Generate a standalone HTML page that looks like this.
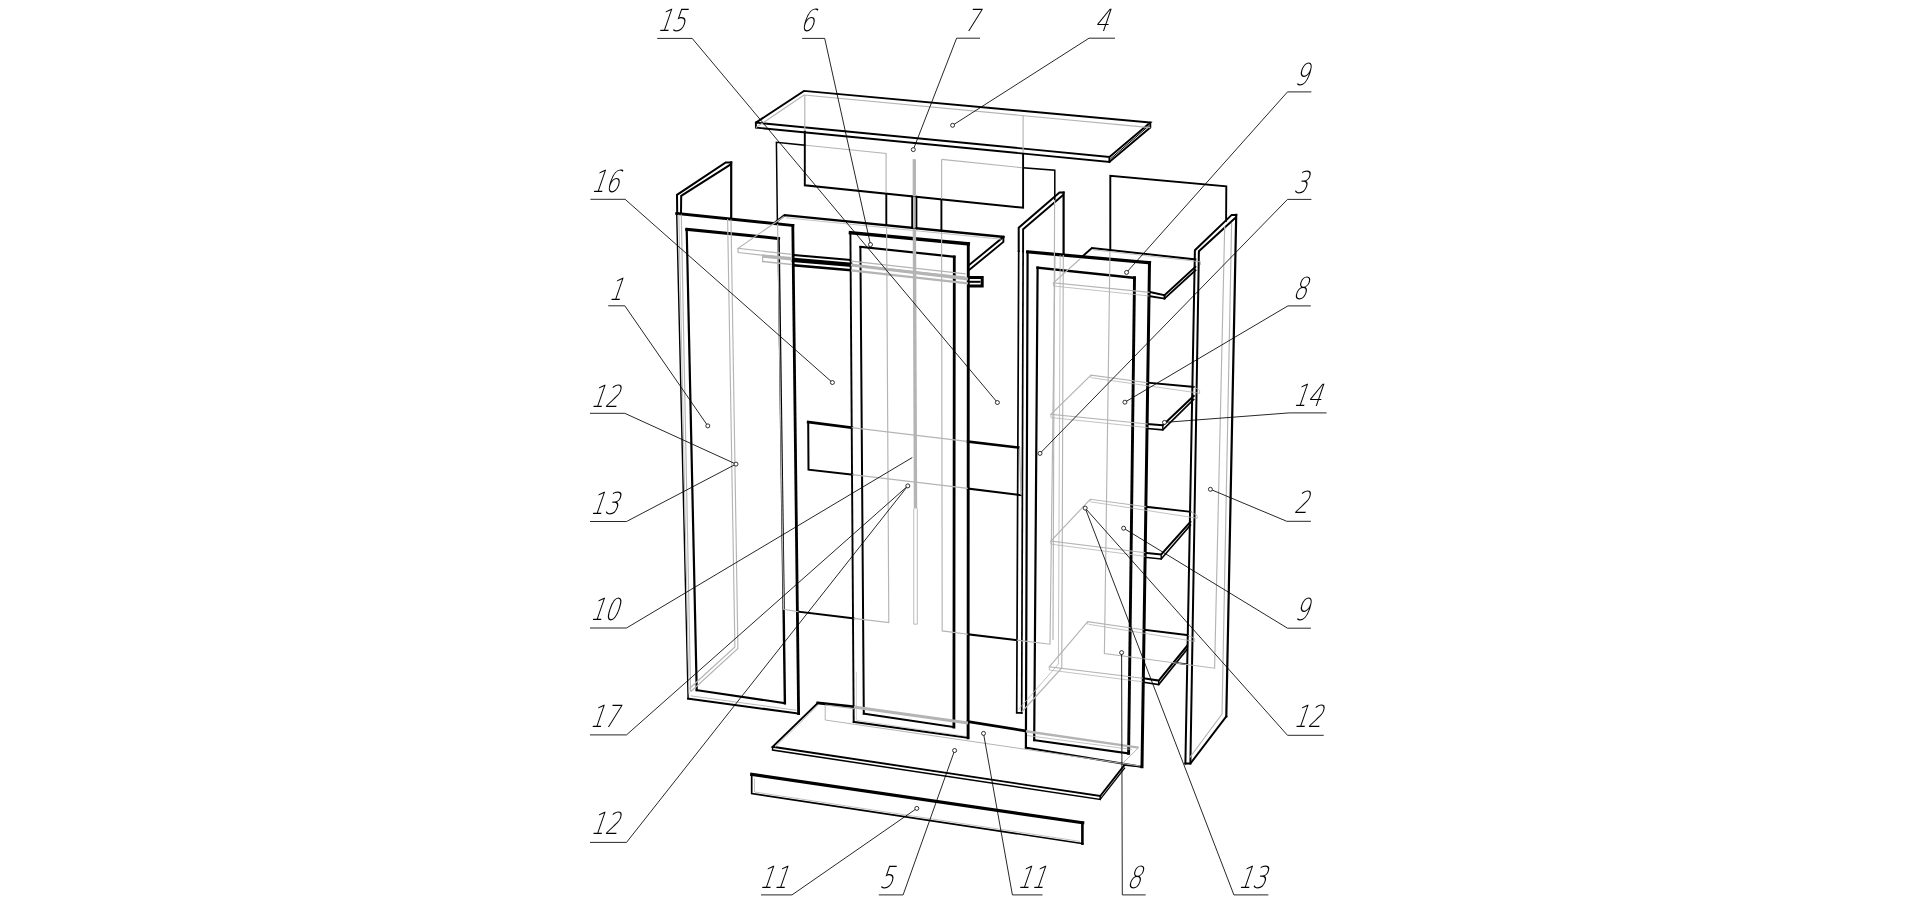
<!DOCTYPE html>
<html lang="ru"><head><meta charset="utf-8"><title>Схема сборки шкафа</title>
<style>
html,body{margin:0;padding:0;background:#fff;}
body{width:1916px;height:904px;overflow:hidden;}
svg{display:block;}
.k{fill:none;stroke:#000;stroke-width:1.9;stroke-linecap:square;stroke-linejoin:miter;}
.t{fill:none;stroke:#000;stroke-width:0.85;}
.g{fill:none;stroke:#b4b4b4;stroke-width:1.15;}
.c{fill:#fff;stroke:#000;stroke-width:0.8;}
text{font-family:"DejaVu Sans Light","DejaVu Sans","Liberation Sans",sans-serif;font-weight:200;fill:#000;}
</style></head><body>
<svg width="1916" height="904" viewBox="0 0 1916 904">
<rect width="1916" height="904" fill="#fff"/>
<g id="black">
<path class="k" d="M755.9,122.6 L804.0,90.9 L1150.3,122.6 L1109.4,156.9 L755.9,122.6 L755.9,127.6 L1109.4,161.9 L1109.4,156.9"/>
<path class="k" d="M1109.4,161.9 L1150.3,127.6 L1150.3,122.6"/>
<path class="k" d="M1148.6,126.0 L1110.8,158.6" style="stroke-width:1.0"/>
<path class="k" d="M804.8,131.5 L804.8,185.3 L1023.1,207.8 L1023.1,153.5"/>
<path class="k" d="M804.8,145.2 L776.4,142.3 L777.4,223.0" style="stroke-width:1.5"/>
<path class="k" d="M886.3,193.8 L886.3,225.2"/>
<path class="k" d="M798.6,611.7 L853.7,618.4"/>
<path class="k" d="M941.4,199.5 L941.4,231.0"/>
<path class="k" d="M968.1,634.3 L1016.7,640.1"/>
<path class="k" d="M1023.1,167.7 L1054.8,170.2 L1054.8,199.4" style="stroke-width:1.5"/>
<path class="k" d="M912.2,196.3 L912.2,228.0"/>
<path class="k" d="M916.4,196.8 L916.4,228.4"/>
<path class="k" d="M677.2,213.5 L677.0,194.8 L725.7,162.4 L731.2,162.4" style="stroke-width:2.0"/>
<path class="k" d="M731.2,162.4 L731.2,219.2" style="stroke-width:2.2"/>
<path class="k" d="M681.0,213.8 L681.2,195.9 L730.7,164.4" style="stroke-width:2.0"/>
<path class="k" d="M676.7,213.5 L792.8,225.5" style="stroke-width:2.9"/>
<path class="k" d="M792.8,225.5 L798.6,713.6" style="stroke-width:2.8"/>
<path class="k" d="M798.6,713.6 L688.1,698.6" style="stroke-width:2.0"/>
<path class="k" d="M688.1,698.6 L676.7,213.5" style="stroke-width:1.4"/>
<path class="k" d="M686.7,229.3 L778.6,238.5" style="stroke-width:3.0"/>
<path class="k" d="M778.6,238.5 L784.9,703.2" style="stroke-width:2.4"/>
<path class="k" d="M784.9,703.2 L696.7,690.2" style="stroke-width:2.0"/>
<path class="k" d="M696.7,690.2 L686.7,229.3" style="stroke-width:2.2"/>
<path class="k" d="M773.7,223.6 L784.6,215.1 L1003.4,236.9" style="stroke-width:2.3"/>
<path class="k" d="M1003.4,236.9 L1003.4,241.9 L968.6,270.5"/>
<path class="k" d="M1003.4,236.9 L968.6,265.5"/>
<path class="k" d="M794.0,255.0 L850.0,260.0" style="stroke-width:2.0"/>
<path class="k" d="M794.0,260.0 L850.0,264.7" style="stroke-width:4.4"/>
<path class="k" d="M794.0,265.4 L850.0,270.1" style="stroke-width:2.6"/>
<path class="k" d="M969.4,277.6 L982.2,277.6 L982.2,285.9 L969.4,285.9" style="stroke-width:3.0"/>
<path class="k" d="M969.4,281.8 L979.5,281.8" style="stroke-width:2.0"/>
<path class="k" d="M850.4,232.7 L968.3,243.8" style="stroke-width:3.4"/>
<path class="k" d="M968.3,243.8 L968.1,737.8" style="stroke-width:2.9"/>
<path class="k" d="M968.1,737.8 L853.7,721.9" style="stroke-width:2.0"/>
<path class="k" d="M853.7,721.9 L850.4,232.7" style="stroke-width:1.9"/>
<path class="k" d="M860.4,246.9 L954.3,256.8" style="stroke-width:2.1"/>
<path class="k" d="M954.3,256.8 L953.9,727.0" style="stroke-width:2.8"/>
<path class="k" d="M953.9,727.0 L863.8,713.6" style="stroke-width:2.0"/>
<path class="k" d="M863.8,713.6 L860.4,246.9" style="stroke-width:2.0"/>
<path class="k" d="M851.7,427.7 L808.2,422.0" style="stroke-width:2.8"/>
<path class="k" d="M808.2,422.0 L808.5,469.7 L852.4,474.7" style="stroke-width:2.0"/>
<path class="k" d="M967.9,441.5 L1018.4,447.6" style="stroke-width:2.6"/>
<path class="k" d="M967.9,488.6 L1020.5,495.1" style="stroke-width:2.0"/>
<path class="k" d="M1018.7,251.0 L1018.7,227.7 L1059.5,192.6 L1063.6,192.6" style="stroke-width:2.0"/>
<path class="k" d="M1063.6,192.6 L1063.6,254.6" style="stroke-width:2.2"/>
<path class="k" d="M1023.1,251.5 L1023.1,229.2 L1063.0,195.2" style="stroke-width:1.9"/>
<path class="k" d="M1018.7,251.0 L1016.7,712.8 L1021.7,712.8" style="stroke-width:1.7"/>
<path class="k" d="M1023.1,251.5 L1021.7,712.8" style="stroke-width:1.7"/>
<path class="k" d="M1027.6,251.9 L1149.5,262.7" style="stroke-width:3.2"/>
<path class="k" d="M1149.5,262.7 L1142.0,766.8" style="stroke-width:3.0"/>
<path class="k" d="M1142.0,766.8 L1025.9,747.6" style="stroke-width:2.0"/>
<path class="k" d="M1025.9,747.6 L1027.6,251.9" style="stroke-width:2.2"/>
<path class="k" d="M1037.6,267.7 L1134.5,277.8" style="stroke-width:2.5"/>
<path class="k" d="M1134.5,277.8 L1128.6,753.4" style="stroke-width:2.9"/>
<path class="k" d="M1128.6,753.4 L1034.2,740.1" style="stroke-width:2.0"/>
<path class="k" d="M1034.2,740.1 L1037.6,267.7" style="stroke-width:2.2"/>
<path class="k" d="M1110.3,249.8 L1110.3,175.9 L1226.3,186.4 L1226.1,220.9" style="stroke-width:1.9"/>
<path class="k" d="M1185.4,763.5 L1194.9,250.2 L1231.7,214.9 L1236.2,214.9" style="stroke-width:2.0"/>
<path class="k" d="M1236.2,214.9 L1226.3,716.4" style="stroke-width:2.2"/>
<path class="k" d="M1226.3,716.4 L1190.4,763.5 L1185.4,763.5" style="stroke-width:2.0"/>
<path class="k" d="M1190.4,763.5 L1198.9,251.2 L1234.7,218.4" style="stroke-width:2.0"/>
<path class="k" d="M1081.9,256.9 L1091.9,248.0 L1195.4,259.4"/>
<path class="k" d="M1195.4,266.9 L1164.5,295.3 L1149.5,292.0"/>
<path class="k" d="M1195.4,270.3 L1164.5,298.6 L1149.5,296.1"/>
<path class="k" d="M1164.5,295.3 L1164.5,298.6"/>
<path class="k" d="M1147.8,382.7 L1193.7,386.9"/>
<path class="k" d="M1193.7,396.0 L1162.8,425.3 L1147.8,424.0" style="stroke-width:2.0"/>
<path class="k" d="M1193.7,399.4 L1162.8,429.9 L1147.8,428.6" style="stroke-width:1.6"/>
<path class="k" d="M1162.8,425.3 L1162.8,429.9" style="stroke-width:1.4"/>
<path class="k" d="M1146.1,506.8 L1190.4,511.8"/>
<path class="k" d="M1190.4,521.8 L1161.2,554.4 L1145.3,552.8" style="stroke-width:2.0"/>
<path class="k" d="M1190.4,525.2 L1161.2,559.0 L1145.3,557.4" style="stroke-width:1.6"/>
<path class="k" d="M1161.2,554.4 L1161.2,559.0" style="stroke-width:1.4"/>
<path class="k" d="M1143.6,629.7 L1187.9,635.1"/>
<path class="k" d="M1187.0,646.0 L1158.7,680.6 L1142.8,678.2" style="stroke-width:2.0"/>
<path class="k" d="M1187.0,649.4 L1158.7,684.6 L1142.8,682.2" style="stroke-width:1.6"/>
<path class="k" d="M1158.7,680.6 L1158.7,684.6" style="stroke-width:1.4"/>
<path class="k" d="M1175.4,662.7 L1187.0,664.3" style="stroke-width:1.6"/>
<path class="k" d="M817.7,703.0 L853.6,706.7" style="stroke-width:2.8"/>
<path class="k" d="M968.0,721.7 L1025.6,730.9" style="stroke-width:2.8"/>
<path class="k" d="M817.7,703.0 L772.6,746.8 L1100.2,796.0 L1124.4,765.1" style="stroke-width:1.9"/>
<path class="k" d="M772.6,746.8 L772.6,750.1 L1100.2,799.4 L1100.2,796.0" style="stroke-width:1.5"/>
<path class="k" d="M1100.2,799.4 L1124.6,768.2" style="stroke-width:1.3"/>
<path class="k" d="M1124.4,765.1 L1142.0,767.0" style="stroke-width:1.5"/>
<path class="k" d="M751.7,774.3 L1082.7,822.8" style="stroke-width:3.2"/>
<path class="k" d="M1082.4,822.8 L1082.4,843.6" style="stroke-width:2.6"/>
<path class="k" d="M751.7,774.3 L751.7,793.5 L1082.7,843.6" style="stroke-width:1.7"/>
</g>
<g id="gray">
<path class="g" d="M755.9,127.6 L804.0,95.0 L1150.3,127.6"/>
<path class="g" d="M804.8,95.0 L804.8,131.0"/>
<path class="g" d="M1023.1,115.0 L1023.1,153.0"/>
<path class="g" d="M806.0,145.3 L886.1,153.5 L886.1,193.0"/>
<path class="g" d="M886.6,226.0 L888.8,622.6 L853.7,618.4"/>
<path class="g" d="M777.6,224.0 L783.6,609.2 L798.6,611.7"/>
<path class="g" d="M941.6,159.4 L1022.3,167.7"/>
<path class="g" d="M941.6,159.4 L941.6,199.0"/>
<path class="g" d="M941.6,232.0 L942.2,630.9 L968.1,634.3"/>
<path class="g" d="M1016.7,640.1 L1050.0,644.2 L1055.0,256.0"/>
<path class="g" d="M1054.6,200.0 L1053.0,640.0"/>
<path class="g" d="M914.3,159.2 L914.3,196.0" style="stroke-width:3.3"/>
<path class="g" d="M914.3,196.5 L914.3,228.4" style="stroke-width:2.2"/>
<path class="g" d="M914.4,229.0 L915.5,508.5" style="stroke-width:3.4"/>
<path class="g" d="M913.8,508.5 L913.8,624.2" style="stroke-width:0.9"/>
<path class="g" d="M917.3,508.5 L917.3,624.2" style="stroke-width:0.9"/>
<path class="g" d="M913.8,624.2 L917.3,624.2" style="stroke-width:0.9"/>
<path class="g" d="M681.3,214.5 L690.6,691.5"/>
<path class="g" d="M678.8,214.5 L688.9,693.5" style="stroke-width:0.9"/>
<path class="g" d="M731.0,219.5 L737.9,648.5 L690.9,691.5"/>
<path class="g" d="M727.6,219.0 L734.9,647.0 L689.5,688.5"/>
<path class="g" d="M690.4,695.8 L796.6,710.3" style="stroke-width:0.9"/>
<path class="g" d="M784.0,216.5 L738.1,248.4 L792.0,254.4"/>
<path class="g" d="M851.5,261.1 L965.6,273.9"/>
<path class="g" d="M738.1,248.4 L738.1,252.6 L792.0,258.4"/>
<path class="g" d="M851.5,264.8 L965.6,277.0"/>
<path class="g" d="M786.0,217.8 L1001.0,239.2" style="stroke-width:0.8"/>
<path class="g" d="M762.6,256.1 L792.0,258.8" style="stroke-width:3.4"/>
<path class="g" d="M762.6,261.5 L792.0,264.6" style="stroke-width:1.5"/>
<path class="g" d="M762.6,254.4 L762.6,262.3" style="stroke-width:1.2"/>
<path class="g" d="M851.0,265.0 L968.0,279.0" style="stroke-width:3.2"/>
<path class="g" d="M851.0,270.4 L968.0,283.4" style="stroke-width:2.2"/>
<path class="g" d="M851.7,427.7 L966.9,441.3" style="stroke-width:1.2"/>
<path class="g" d="M852.4,474.7 L967.9,488.4" style="stroke-width:1.2"/>
<path class="g" d="M1019.6,447.6 L1020.9,495.1" style="stroke-width:1.2"/>
<path class="g" d="M1063.3,255.0 L1061.8,668.0 L1021.7,712.0"/>
<path class="g" d="M1060.2,255.0 L1058.4,664.0 L1018.5,709.5" style="stroke-width:0.8"/>
<path class="g" d="M1110.0,251.0 L1104.4,653.5 L1214.6,668.2 L1224.7,226.0"/>
<path class="g" d="M1231.6,223.0 L1222.0,714.0 L1189.8,757.5"/>
<path class="g" d="M1080.8,258.2 L1053.5,282.8 L1149.5,292.4"/>
<path class="g" d="M1053.5,282.8 L1053.5,286.0 L1149.5,296.0" style="stroke-width:0.8"/>
<path class="g" d="M1093.0,249.8 L1200.5,261.8 L1200.5,265.0" style="stroke-width:0.8"/>
<path class="g" d="M1147.8,382.7 L1091.0,375.2 L1050.9,414.4 L1147.8,424.0"/>
<path class="g" d="M1091.0,375.2 L1091.0,378.2" style="stroke-width:0.8"/>
<path class="g" d="M1050.9,414.4 L1050.9,417.6 L1147.8,427.6" style="stroke-width:0.8"/>
<path class="g" d="M1193.7,386.9 L1199.6,390.2 L1199.6,393.7" style="stroke-width:0.8"/>
<path class="g" d="M1092.0,377.8 L1199.6,393.2" style="stroke-width:0.8"/>
<path class="g" d="M1146.1,506.8 L1090.2,499.3 L1050.9,541.0 L1145.3,552.8"/>
<path class="g" d="M1090.2,499.3 L1090.2,502.3" style="stroke-width:0.8"/>
<path class="g" d="M1050.9,541.0 L1050.9,544.2 L1145.3,556.4" style="stroke-width:0.8"/>
<path class="g" d="M1190.4,511.8 L1197.1,515.2 L1197.1,518.7" style="stroke-width:0.8"/>
<path class="g" d="M1091.2,501.9 L1197.1,518.2" style="stroke-width:0.8"/>
<path class="g" d="M1143.6,629.7 L1087.7,621.7 L1049.3,666.8 L1142.8,678.2"/>
<path class="g" d="M1087.7,621.7 L1087.7,624.7" style="stroke-width:0.8"/>
<path class="g" d="M1049.3,666.8 L1049.3,670.0 L1142.8,681.8" style="stroke-width:0.8"/>
<path class="g" d="M1187.9,635.1 L1194.6,638.4 L1194.6,641.9" style="stroke-width:0.8"/>
<path class="g" d="M1088.7,624.3 L1194.6,641.4" style="stroke-width:0.8"/>
<path class="g" d="M818.5,704.8 L775.0,747.2" style="stroke-width:0.8"/>
<path class="g" d="M825.2,705.0 L825.2,720.0 L1140.0,766.0" style="stroke-width:1.0"/>
<path class="g" d="M825.2,705.0 L853.9,708.6" style="stroke-width:1.2"/>
<path class="g" d="M853.9,707.0 L968.0,723.0" style="stroke-width:2.8"/>
<path class="g" d="M856.4,672.0 L856.4,720.3 L965.5,736.2" style="stroke-width:0.6"/>
<path class="g" d="M1026.0,731.2 L1138.6,747.6" style="stroke-width:2.4"/>
<path class="g" d="M1138.6,747.6 L1122.0,764.0" style="stroke-width:1.0"/>
<path class="g" d="M1027.0,735.5 L1132.0,749.5" style="stroke-width:0.8"/>
<path class="g" d="M754.5,778.5 L754.5,792.0" style="stroke-width:0.8"/>
<path class="g" d="M754.5,792.0 L1080.0,841.4" style="stroke-width:0.8"/>
</g>
<g id="leaders">
<path class="t" d="M657.2,38.4 L692.2,38.4"/>
<path class="t" d="M692.2,38.4 L997.4,402.5"/>
<path class="t" d="M802.1,38.4 L824.7,38.4"/>
<path class="t" d="M824.7,38.4 L870.5,244.6"/>
<path class="t" d="M956.6,38.2 L980.0,38.2"/>
<path class="t" d="M956.6,38.2 L913.3,149.6"/>
<path class="t" d="M1089.0,38.2 L1115.0,38.2"/>
<path class="t" d="M1089.0,38.2 L952.6,125.3"/>
<path class="t" d="M590.4,199.3 L625.1,199.3"/>
<path class="t" d="M625.1,199.3 L832.4,382.5"/>
<path class="t" d="M608.2,305.8 L624.8,305.8"/>
<path class="t" d="M624.8,305.8 L707.8,425.9"/>
<path class="t" d="M590.0,413.3 L624.8,413.3"/>
<path class="t" d="M624.8,413.3 L736.0,464.1"/>
<path class="t" d="M590.0,521.5 L626.5,521.5"/>
<path class="t" d="M626.5,521.5 L736.0,464.1"/>
<path class="t" d="M590.0,628.0 L626.5,628.0"/>
<path class="t" d="M626.5,628.0 L912.3,457.5"/>
<path class="t" d="M590.0,734.9 L626.5,734.9"/>
<path class="t" d="M626.5,734.9 L907.8,485.9"/>
<path class="t" d="M590.0,842.4 L626.5,842.4"/>
<path class="t" d="M626.5,842.4 L907.8,485.9"/>
<path class="t" d="M761.0,894.9 L792.0,894.9"/>
<path class="t" d="M792.0,894.9 L916.8,808.4"/>
<path class="t" d="M878.8,894.9 L903.1,894.9"/>
<path class="t" d="M903.1,894.9 L954.6,750.5"/>
<path class="t" d="M1012.4,894.9 L1042.5,894.9"/>
<path class="t" d="M1012.4,894.9 L983.5,733.4"/>
<path class="t" d="M1122.3,894.9 L1145.7,894.9"/>
<path class="t" d="M1122.3,894.9 L1121.6,652.6"/>
<path class="t" d="M1233.9,894.9 L1268.4,894.9"/>
<path class="t" d="M1233.9,894.9 L1085.2,508.1"/>
<path class="t" d="M1287.5,91.9 L1311.4,91.9"/>
<path class="t" d="M1287.5,91.9 L1126.6,272.4"/>
<path class="t" d="M1287.5,199.4 L1311.4,199.4"/>
<path class="t" d="M1287.5,199.4 L1040.0,453.4"/>
<path class="t" d="M1287.9,305.9 L1310.8,305.9"/>
<path class="t" d="M1287.9,305.9 L1124.9,402.2"/>
<path class="t" d="M1289.2,412.9 L1326.6,412.9"/>
<path class="t" d="M1289.2,412.9 L1164.5,422.4"/>
<path class="t" d="M1286.8,521.3 L1310.9,521.3"/>
<path class="t" d="M1286.8,521.3 L1210.4,489.3"/>
<path class="t" d="M1287.5,628.2 L1310.9,628.2"/>
<path class="t" d="M1287.5,628.2 L1123.6,528.2"/>
<path class="t" d="M1287.5,735.3 L1323.7,735.3"/>
<path class="t" d="M1287.5,735.3 L1085.2,508.1"/>
<circle class="c" cx="997.4" cy="402.5" r="2.0"/>
<circle class="c" cx="870.5" cy="244.6" r="2.0"/>
<circle class="c" cx="913.3" cy="149.6" r="2.0"/>
<circle class="c" cx="952.6" cy="125.3" r="2.0"/>
<circle class="c" cx="832.4" cy="382.5" r="2.0"/>
<circle class="c" cx="707.8" cy="425.9" r="2.0"/>
<circle class="c" cx="736.0" cy="464.1" r="2.0"/>
<circle class="c" cx="907.8" cy="485.9" r="2.0"/>
<circle class="c" cx="916.8" cy="808.4" r="2.0"/>
<circle class="c" cx="954.6" cy="750.5" r="2.0"/>
<circle class="c" cx="983.5" cy="733.4" r="2.0"/>
<circle class="c" cx="1121.6" cy="652.6" r="2.0"/>
<circle class="c" cx="1085.2" cy="508.1" r="2.0"/>
<circle class="c" cx="1126.6" cy="272.4" r="2.0"/>
<circle class="c" cx="1040.0" cy="453.4" r="2.0"/>
<circle class="c" cx="1124.9" cy="402.2" r="2.0"/>
<circle class="c" cx="1164.5" cy="422.4" r="2.0"/>
<circle class="c" cx="1210.4" cy="489.3" r="2.0"/>
<circle class="c" cx="1123.6" cy="528.2" r="2.0"/>
</g>
<g id="labels" opacity="0.99">
<text transform="translate(656.7,31.4) skewX(-19) scale(0.73,1)" font-size="30.5">15</text>
<text transform="translate(799.6,31.4) skewX(-19) scale(0.73,1)" font-size="30.5">6</text>
<text transform="translate(963.4,31.4) skewX(-19) scale(0.73,1)" font-size="30.5">7</text>
<text transform="translate(1093.9,31.4) skewX(-19) scale(0.73,1)" font-size="30.5">4</text>
<text transform="translate(590.4,191.8) skewX(-19) scale(0.73,1)" font-size="30.5">16</text>
<text transform="translate(608.0,299.8) skewX(-19) scale(0.73,1)" font-size="30.5">1</text>
<text transform="translate(590.1,406.7) skewX(-19) scale(0.73,1)" font-size="30.5">12</text>
<text transform="translate(589.6,513.9) skewX(-19) scale(0.73,1)" font-size="30.5">13</text>
<text transform="translate(589.6,619.7) skewX(-19) scale(0.73,1)" font-size="30.5">10</text>
<text transform="translate(589.2,726.9) skewX(-19) scale(0.73,1)" font-size="30.5">17</text>
<text transform="translate(590.1,834.4) skewX(-19) scale(0.73,1)" font-size="30.5">12</text>
<text transform="translate(758.8,887.6) skewX(-19) scale(0.73,1)" font-size="30.5">11</text>
<text transform="translate(878.7,887.6) skewX(-19) scale(0.73,1)" font-size="30.5">5</text>
<text transform="translate(1016.7,887.6) skewX(-19) scale(0.73,1)" font-size="30.5">11</text>
<text transform="translate(1126.3,887.6) skewX(-19) scale(0.73,1)" font-size="30.5">8</text>
<text transform="translate(1237.4,887.6) skewX(-19) scale(0.73,1)" font-size="30.5">13</text>
<text transform="translate(1294.0,84.6) skewX(-19) scale(0.73,1)" font-size="30.5">9</text>
<text transform="translate(1293.0,192.5) skewX(-19) scale(0.73,1)" font-size="30.5">3</text>
<text transform="translate(1292.3,298.7) skewX(-19) scale(0.73,1)" font-size="30.5">8</text>
<text transform="translate(1292.5,405.7) skewX(-19) scale(0.73,1)" font-size="30.5">14</text>
<text transform="translate(1293.4,513.3) skewX(-19) scale(0.73,1)" font-size="30.5">2</text>
<text transform="translate(1294.0,619.8) skewX(-19) scale(0.73,1)" font-size="30.5">9</text>
<text transform="translate(1293.1,727.3) skewX(-19) scale(0.73,1)" font-size="30.5">12</text>
</g>
</svg>
</body></html>
